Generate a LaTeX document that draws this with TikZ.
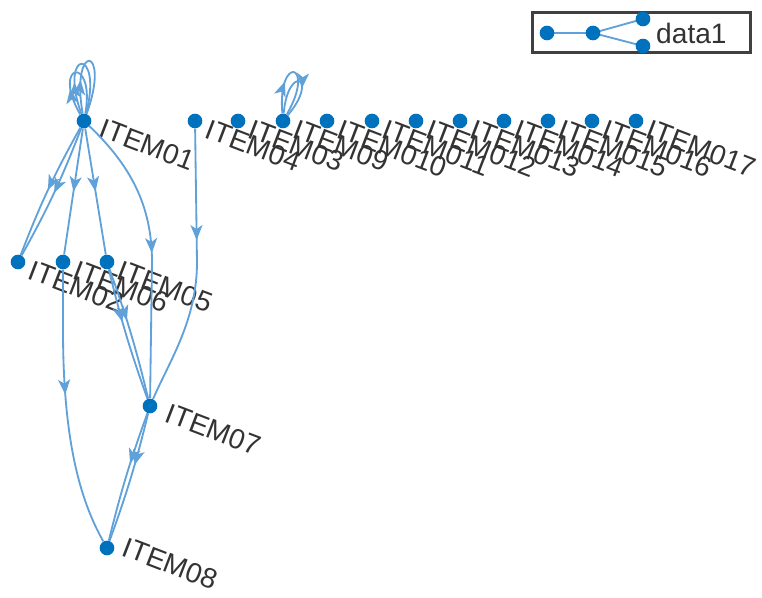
\documentclass[tikz,border=0pt]{standalone}
\usepackage{fontspec}
\setmainfont{Liberation Sans}
\usepackage{tikz}
\usetikzlibrary{arrows.meta}
\usetikzlibrary{decorations.markings}
\definecolor{graphBlue}{rgb}{0,0.447,0.741}
\definecolor{graphEdge}{rgb}{0.38,0.63,0.85}
\definecolor{labelGray}{rgb}{0.2,0.2,0.2}
\tikzstyle{vertex} = [circle, fill=graphBlue, inner sep=0pt, minimum size=0.44cm]
\tikzstyle{itemname} = [rotate=-21, anchor=west, inner sep=0pt, text=labelGray,
        font={\fontsize{24}{26}\selectfont}]
\tikzstyle{legendbox} = [draw=black!75, line width=0.09cm, fill=white]
\tikzset{flow/.style={draw, color=graphEdge, line width=0.055cm, postaction={decorate},
        decoration={markings, mark=at position #1 with {\arrow{Stealth[length=0.45cm,width=0.36cm,inset=0.12cm]}}}},
        flow/.default=0.5}

\begin{document}
\begin{tikzpicture}[x=0.03cm, y=-0.03cm]
            \useasboundingbox (0,0) rectangle (762,598);
            % vertices
            \node [vertex] (i01) at (84,121) {};
            \node [vertex] (i04) at (195,121) {};
            \node [vertex] (i03) at (238,121) {};
            \node [vertex] (i09) at (283,121) {};
            \node [vertex] (i10) at (327,121) {};
            \node [vertex] (i11) at (372,121) {};
            \node [vertex] (i12) at (416,121) {};
            \node [vertex] (i13) at (460,121) {};
            \node [vertex] (i14) at (504,121) {};
            \node [vertex] (i15) at (548,121) {};
            \node [vertex] (i16) at (592,121) {};
            \node [vertex] (i17) at (636,121) {};
            \node [vertex] (i02) at (18,262) {};
            \node [vertex] (i06) at (63,262) {};
            \node [vertex] (i05) at (107,262) {};
            \node [vertex] (i07) at (150,406) {};
            \node [vertex] (i08) at (107,548) {};
            % names
            \node [itemname] (n01) at ([shift={(17,6)}]i01) {ITEM01};
            \node [itemname] (n04) at ([shift={(12,7)}]i04) {ITEM04};
            \node [itemname] (n03) at ([shift={(12,7)}]i03) {ITEM03};
            \node [itemname] (n09) at ([shift={(12,7)}]i09) {ITEM09};
            \node [itemname] (n10) at ([shift={(12,7)}]i10) {ITEM010};
            \node [itemname] (n11) at ([shift={(12,7)}]i11) {ITEM011};
            \node [itemname] (n12) at ([shift={(12,7)}]i12) {ITEM012};
            \node [itemname] (n13) at ([shift={(12,7)}]i13) {ITEM013};
            \node [itemname] (n14) at ([shift={(12,7)}]i14) {ITEM014};
            \node [itemname] (n15) at ([shift={(12,7)}]i15) {ITEM015};
            \node [itemname] (n16) at ([shift={(12,7)}]i16) {ITEM016};
            \node [itemname] (n17) at ([shift={(12,7)}]i17) {ITEM017};
            \node [itemname] (n02) at ([shift={(12,7)}]i02) {ITEM02};
            \node [itemname] (n06) at ([shift={(12,7)}]i06) {ITEM06};
            \node [itemname] (n05) at ([shift={(12,7)}]i05) {ITEM05};
            \node [itemname] (n07) at ([shift={(17,6)}]i07) {ITEM07};
            \node [itemname] (n08) at ([shift={(17,-2)}]i08) {ITEM08};
            % edges
            \draw [flow] (i01) to[bend right=4] (i02);
            \draw [flow] (i01) to[bend left=4] (i02);
            \draw [flow] (i01) -- (i06);
            \draw [flow] (i01) -- (i05);
            \draw [flow=0.5] (i01) .. controls (130,165) and (152,205) .. (152,262) -- (i07);
            \draw [flow=0.4] (i04) -- (197,262) .. controls (197,320) and (170,360) .. (i07);
            \draw [flow=0.45] (i06) -- (63,330) .. controls (63,440) and (80,500) .. (i08);
            \draw [flow=0.4] (i05) to[bend right=3] (i07);
            \draw [flow=0.4] (i05) to[bend left=3] (i07);
            \draw [flow=0.4] (i07) to[bend right=3] (i08);
            \draw [flow=0.4] (i07) to[bend left=3] (i08);
            % self loops
            \draw [flow=0.3] (i01) to[out=110, in=75, distance=2.1cm] (i01);
            \draw [flow=0.3] (i01) to[out=120, in=80, distance=1.8cm] (i01);
            \draw [flow=0.3] (i01) to[out=100, in=70, distance=2.2cm] (i01);
            \draw [flow=0.35] (i09) to[out=95, in=60, distance=1.8cm] (i09);
            \draw [flow=0.6] (i09) to[out=85, in=50, distance=1.5cm] (i09);
            % legend
            \node [legendbox, minimum width=6.54cm, minimum height=1.2cm] (legend) at (641,33) {};
            \coordinate (k1) at (547,33);
            \coordinate (k2) at (593,33);
            \coordinate (k3) at (643,19);
            \coordinate (k4) at (643,46);
            \draw [color=graphEdge, line width=0.055cm] (k1) -- (k2) -- (k3) (k2) -- (k4);
            \node [vertex] (d1) at (k1) {};
            \node [vertex] (d2) at (k2) {};
            \node [vertex] (d3) at (k3) {};
            \node [vertex] (d4) at (k4) {};
            \node [anchor=west, inner sep=0pt, text=labelGray, font={\fontsize{24}{26}\selectfont}] (dataname) at (656,33) {data1};
        \end{tikzpicture}
\end{document}
